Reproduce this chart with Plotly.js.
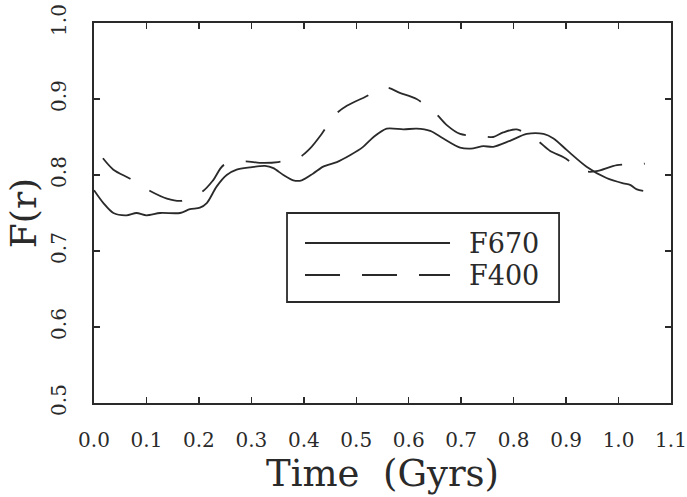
<!DOCTYPE html>
<html>
<head>
<meta charset="utf-8">
<script src="https://cdn.plot.ly/plotly-3.0.1.min.js"></script>
<style>html,body{margin:0;padding:0;background:#fff;}#chart{width:687px;height:497px;}</style>
</head>
<body>
<div id="chart"></div>
<script>
// F670 (solid)
const tF670 = [0, 0.018, 0.037, 0.062, 0.081, 0.10, 0.126, 0.164, 0.183, 0.202, 0.215, 0.234, 0.253, 0.272, 0.297, 0.326, 0.342, 0.361, 0.380, 0.396, 0.418, 0.437, 0.463, 0.488, 0.513, 0.533, 0.558, 0.590, 0.615, 0.641, 0.666, 0.698, 0.723, 0.742, 0.761, 0.793, 0.825, 0.857, 0.876, 0.901, 0.939, 0.977, 1.009, 1.022, 1.035, 1.047];
const vF670 = [0.780, 0.763, 0.750, 0.747, 0.750, 0.747, 0.750, 0.750, 0.755, 0.757, 0.763, 0.785, 0.800, 0.807, 0.810, 0.812, 0.809, 0.800, 0.793, 0.793, 0.802, 0.811, 0.817, 0.826, 0.837, 0.850, 0.861, 0.860, 0.861, 0.858, 0.848, 0.836, 0.835, 0.838, 0.837, 0.845, 0.854, 0.854, 0.848, 0.833, 0.811, 0.796, 0.789, 0.787, 0.781, 0.779];
// F400 (dashed)
const tF400 = [0.017, 0.037, 0.069, 0.107, 0.139, 0.167, 0.208, 0.227, 0.247, 0.288, 0.316, 0.351, 0.393, 0.412, 0.434, 0.459, 0.482, 0.515, 0.557, 0.583, 0.615, 0.650, 0.672, 0.698, 0.742, 0.761, 0.780, 0.806, 0.844, 0.869, 0.896, 0.936, 0.958, 0.997, 1.041, 1.050];
const vF400 = [0.822, 0.807, 0.795, 0.779, 0.769, 0.766, 0.779, 0.793, 0.813, 0.818, 0.816, 0.817, 0.824, 0.835, 0.854, 0.879, 0.891, 0.902, 0.915, 0.908, 0.900, 0.882, 0.866, 0.854, 0.851, 0.850, 0.856, 0.860, 0.846, 0.832, 0.823, 0.805, 0.805, 0.813, 0.814, 0.815];

const xTicks = [0.0, 0.1, 0.2, 0.3, 0.4, 0.5, 0.6, 0.7, 0.8, 0.9, 1.0, 1.1];
const xTickText = ["0.0", "0.1", "0.2", "0.3", "0.4", "0.5", "0.6", "0.7", "0.8", "0.9", "1.0", "1.1"];
const yTicks = [0.5, 0.6, 0.7, 0.8, 0.9, 1.0];
const yTickText = ["0.5", "0.6", "0.7", "0.8", "0.9", "1.0"];
const seriesNames = ["F670", "F400"];

const ink = "#2a2a2a";
const font = "DejaVu Serif, serif";
const dashPat = "35px,22px";

const traces = [
  {x: tF670, y: vF670, name: seriesNames[0], mode: "lines", line: {color: ink, width: 1.8, shape: "spline", smoothing: 0.8}},
  {x: tF400, y: vF400, name: seriesNames[1], mode: "lines", line: {color: ink, width: 1.8, dash: dashPat, shape: "spline", smoothing: 0.8}}
];

const layout = {
  width: 687, height: 497,
  margin: {l: 94, r: 16, t: 23, b: 94},
  paper_bgcolor: "#fff", plot_bgcolor: "#fff",
  showlegend: false,
  font: {family: font, color: ink},
  xaxis: {
    range: [0, 1.1], tickvals: xTicks, ticktext: xTickText,
    ticks: "inside", ticklen: 6, tickwidth: 1.5, tickcolor: ink,
    showline: true, linewidth: 1.8, linecolor: ink, mirror: "ticks",
    showgrid: false, zeroline: false,
    tickfont: {family: font, size: 20, color: ink},
    ticklabelstandoff: 18,
    title: {text: "Time&nbsp;&nbsp;(Gyrs)", font: {family: font, size: 37, color: ink}, standoff: 3}
  },
  yaxis: {
    range: [0.5, 1.0], tickvals: yTicks, ticktext: yTickText,
    ticks: "inside", ticklen: 6, tickwidth: 1.5, tickcolor: ink,
    showline: true, linewidth: 1.8, linecolor: ink, mirror: "ticks",
    showgrid: false, zeroline: false, tickangle: -90,
    tickfont: {family: font, size: 20, color: ink},
    ticklabelstandoff: 18,
    title: {text: "F(r)", font: {family: font, size: 36, color: ink}, standoff: 0}
  },
  shapes: [
    {type: "rect", xref: "paper", yref: "paper", x0: 0.3345, x1: 0.806, y0: 0.2658, y1: 0.5, line: {color: ink, width: 1.8}, fillcolor: "rgba(0,0,0,0)"},
    {type: "line", xref: "paper", yref: "paper", x0: 0.3657, x1: 0.617, y0: 0.421, y1: 0.421, line: {color: ink, width: 1.8}},
    {type: "line", xref: "paper", yref: "paper", x0: 0.3657, x1: 0.617, y0: 0.3368, y1: 0.3368, line: {color: ink, width: 1.8, dash: dashPat}}
  ],
  annotations: [
    {xref: "paper", yref: "paper", x: 0.6464, y: 0.421, xanchor: "left", yanchor: "middle", text: seriesNames[0], showarrow: false, font: {family: font, size: 27, color: ink}},
    {xref: "paper", yref: "paper", x: 0.6464, y: 0.3368, xanchor: "left", yanchor: "middle", text: seriesNames[1], showarrow: false, font: {family: font, size: 27, color: ink}}
  ]
};

Plotly.newPlot("chart", traces, layout, {displayModeBar: false, staticPlot: true});
</script>
</body>
</html>
